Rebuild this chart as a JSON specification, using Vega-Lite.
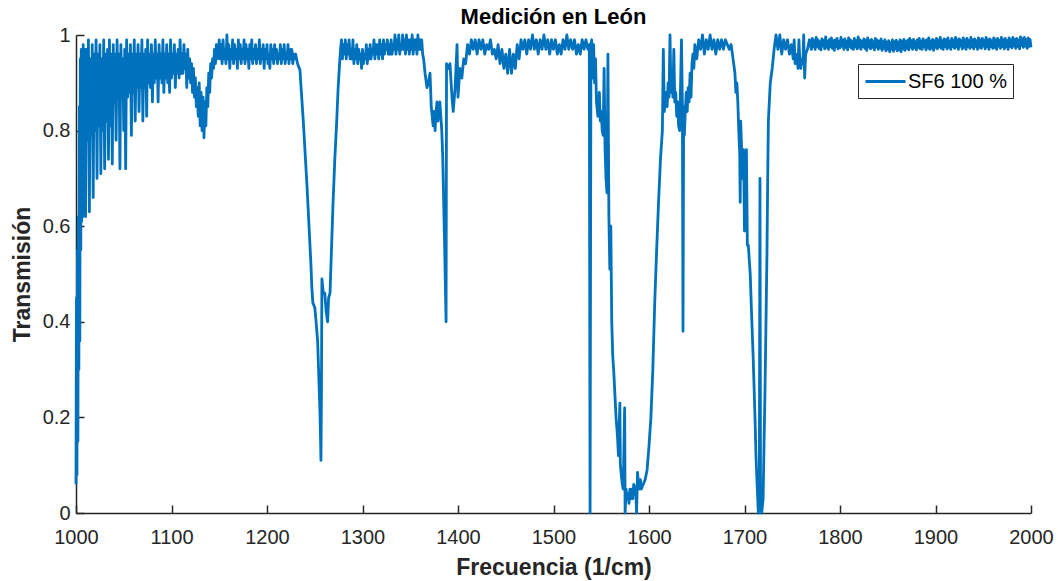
{
"$schema": "https://vega.github.io/schema/vega-lite/v6.json",
"width": 955,
"height": 478,
"autosize": {"type": "none"},
"padding": {"left": 76, "top": 35, "right": 27, "bottom": 68},
"background": "white",
"title": {"text": "Medición en León", "fontSize": 22, "font": "Liberation Sans", "fontWeight": "bold", "color": "#000000", "anchor": "middle", "offset": -4},
"config": {
  "view": {"stroke": null},
  "font": "Liberation Sans",
  "axis": {"grid": false, "domainColor": "#262626", "domainWidth": 1.5, "tickColor": "#262626", "tickWidth": 1.5, "labelColor": "#262626", "titleColor": "#262626", "labelFont": "Liberation Sans", "titleFont": "Liberation Sans", "labelFontSize": 20, "titleFontSize": 23, "titleFontWeight": "bold", "tickSize": -8, "labelFlush": false, "labelOverlap": false}
},
"data": {"values": [
{"x":1000,"y":0.06},{"x":1000.5,"y":0.45},{"x":1001,"y":0.08},{"x":1001.5,"y":0.55},{"x":1002,"y":0.15},{"x":1002.5,"y":0.62},{"x":1003,"y":0.30},{"x":1003.5,"y":0.85},{"x":1004,"y":0.36},{"x":1004.5,"y":0.95},{"x":1005,"y":0.55},{"x":1005.5,"y":0.97},{"x":1006,"y":0.61},{"x":1006.5,"y":0.90},{"x":1007,"y":0.62},{"x":1007.5,"y":0.98},{"x":1008,"y":0.63},{"x":1008.5,"y":0.93},{"x":1009,"y":0.70},{"x":1009.5,"y":0.97},
{"x":1010,"y":0.62},{"x":1011,"y":0.97},{"x":1012,"y":0.78},{"x":1013,"y":0.99},{"x":1014,"y":0.63},{"x":1015,"y":0.95},{"x":1016,"y":0.79},{"x":1017,"y":0.98},{"x":1018,"y":0.66},{"x":1019,"y":0.96},
{"x":1020,"y":0.80},{"x":1021,"y":0.99},{"x":1022,"y":0.70},{"x":1023,"y":0.96},{"x":1024,"y":0.81},{"x":1025,"y":0.98},{"x":1026,"y":0.71},{"x":1027,"y":0.95},{"x":1028,"y":0.80},{"x":1029,"y":0.99},
{"x":1030,"y":0.72},{"x":1031,"y":0.96},{"x":1032,"y":0.82},{"x":1033,"y":0.97},{"x":1034,"y":0.74},{"x":1035,"y":0.99},{"x":1036,"y":0.81},{"x":1037,"y":0.96},{"x":1038,"y":0.73},{"x":1039,"y":0.98},
{"x":1040,"y":0.86},{"x":1041,"y":0.96},{"x":1042,"y":0.78},{"x":1043,"y":0.99},{"x":1044,"y":0.87},{"x":1045,"y":0.96},{"x":1046,"y":0.72},{"x":1047,"y":0.98},{"x":1048,"y":0.87},{"x":1049,"y":0.95},
{"x":1050,"y":0.80},{"x":1051,"y":0.97},{"x":1052,"y":0.72},{"x":1053,"y":0.99},{"x":1054,"y":0.87},{"x":1055,"y":0.96},{"x":1056,"y":0.88},{"x":1057,"y":0.98},{"x":1058,"y":0.79},{"x":1059,"y":0.96},
{"x":1060,"y":0.88},{"x":1061,"y":0.99},{"x":1062,"y":0.82},{"x":1063,"y":0.96},{"x":1064,"y":0.89},{"x":1065,"y":0.98},{"x":1066,"y":0.84},{"x":1067,"y":0.96},{"x":1068,"y":0.89},{"x":1069,"y":0.99},
{"x":1070,"y":0.82},{"x":1071,"y":0.96},{"x":1072,"y":0.89},{"x":1073,"y":0.97},{"x":1074,"y":0.83},{"x":1075,"y":0.99},{"x":1076,"y":0.90},{"x":1077,"y":0.96},{"x":1078,"y":0.89},{"x":1079,"y":0.98},
{"x":1080,"y":0.86},{"x":1081,"y":0.96},{"x":1082,"y":0.90},{"x":1083,"y":0.99},{"x":1084,"y":0.91},{"x":1085,"y":0.96},{"x":1086,"y":0.86},{"x":1087,"y":0.98},{"x":1088,"y":0.91},{"x":1089,"y":0.96},
{"x":1090,"y":0.90},{"x":1091,"y":0.99},{"x":1092,"y":0.88},{"x":1093,"y":0.96},{"x":1094,"y":0.91},{"x":1095,"y":0.98},{"x":1096,"y":0.90},{"x":1097,"y":0.96},{"x":1098,"y":0.88},{"x":1099,"y":0.99},
{"x":1100,"y":0.91},{"x":1101,"y":0.96},{"x":1102,"y":0.92},{"x":1103,"y":0.98},{"x":1104,"y":0.89},{"x":1105,"y":0.96},{"x":1106,"y":0.92},{"x":1107,"y":0.97},{"x":1108,"y":0.91},{"x":1109,"y":0.99},
{"x":1110,"y":0.92},{"x":1111,"y":0.96},{"x":1112,"y":0.92},{"x":1113,"y":0.98},{"x":1114,"y":0.93},{"x":1115,"y":0.96},{"x":1116,"y":0.89},{"x":1117,"y":0.97},{"x":1118,"y":0.91},{"x":1119,"y":0.95},
{"x":1120,"y":0.90},{"x":1121,"y":0.94},{"x":1122,"y":0.88},{"x":1123,"y":0.93},{"x":1124,"y":0.87},{"x":1125,"y":0.91},{"x":1126,"y":0.85},{"x":1127,"y":0.89},{"x":1128,"y":0.83},{"x":1129,"y":0.90},
{"x":1130,"y":0.81},{"x":1131,"y":0.88},{"x":1132,"y":0.80},{"x":1133,"y":0.87},{"x":1134,"y":0.785},{"x":1135,"y":0.86},{"x":1136,"y":0.81},{"x":1137,"y":0.89},{"x":1138,"y":0.85},{"x":1139,"y":0.92},
{"x":1140,"y":0.88},{"x":1141,"y":0.94},{"x":1142,"y":0.91},{"x":1143,"y":0.95},{"x":1144,"y":0.93},{"x":1145,"y":0.97},{"x":1146,"y":0.94},{"x":1147,"y":0.98},{"x":1148,"y":0.95},{"x":1149,"y":0.96},
{"x":1150,"y":0.99},{"x":1151,"y":0.95},{"x":1152,"y":0.98},{"x":1153,"y":0.94},{"x":1154,"y":0.99},{"x":1155,"y":0.95},{"x":1156,"y":0.97},{"x":1157,"y":0.94},{"x":1158,"y":1.0},{"x":1159,"y":0.95},
{"x":1160,"y":0.98},{"x":1161,"y":0.93},{"x":1162,"y":0.97},{"x":1163,"y":0.95},{"x":1164,"y":0.99},{"x":1165,"y":0.94},{"x":1166,"y":0.98},{"x":1167,"y":0.95},{"x":1168,"y":0.97},{"x":1169,"y":0.93},
{"x":1170,"y":0.99},{"x":1171,"y":0.95},{"x":1172,"y":0.98},{"x":1173,"y":0.94},{"x":1174,"y":0.97},{"x":1175,"y":0.95},{"x":1176,"y":0.99},{"x":1177,"y":0.94},{"x":1178,"y":0.98},{"x":1179,"y":0.95},
{"x":1180,"y":0.97},{"x":1181,"y":0.93},{"x":1182,"y":0.98},{"x":1183,"y":0.95},{"x":1184,"y":0.99},{"x":1185,"y":0.94},{"x":1186,"y":0.97},{"x":1187,"y":0.95},{"x":1188,"y":0.98},{"x":1189,"y":0.94},
{"x":1190,"y":0.97},{"x":1191,"y":0.95},{"x":1192,"y":0.99},{"x":1193,"y":0.94},{"x":1194,"y":0.97},{"x":1195,"y":0.95},{"x":1196,"y":0.98},{"x":1197,"y":0.93},{"x":1198,"y":0.97},{"x":1199,"y":0.95},
{"x":1200,"y":0.98},{"x":1201,"y":0.94},{"x":1202,"y":0.96},{"x":1203,"y":0.93},{"x":1204,"y":0.98},{"x":1205,"y":0.95},{"x":1206,"y":0.97},{"x":1207,"y":0.94},{"x":1208,"y":0.98},{"x":1209,"y":0.95},
{"x":1210,"y":0.97},{"x":1211,"y":0.94},{"x":1212,"y":0.96},{"x":1213,"y":0.95},{"x":1214,"y":0.98},{"x":1215,"y":0.94},{"x":1216,"y":0.97},{"x":1217,"y":0.95},{"x":1218,"y":0.98},{"x":1219,"y":0.94},
{"x":1220,"y":0.96},{"x":1221,"y":0.95},{"x":1222,"y":0.98},{"x":1223,"y":0.94},{"x":1224,"y":0.97},{"x":1225,"y":0.95},{"x":1226,"y":0.97},{"x":1227,"y":0.94},{"x":1228,"y":0.96},{"x":1229,"y":0.95},
{"x":1230,"y":0.96},{"x":1232,"y":0.94},{"x":1234.5,"y":0.927},{"x":1236,"y":0.88},{"x":1238,"y":0.82},{"x":1240,"y":0.75},{"x":1242,"y":0.68},{"x":1244,"y":0.60},{"x":1246,"y":0.52},{"x":1247,"y":0.47},
{"x":1248,"y":0.44},{"x":1250,"y":0.43},{"x":1251,"y":0.41},{"x":1253,"y":0.36},{"x":1254,"y":0.30},{"x":1255.5,"y":0.21},{"x":1256.5,"y":0.11},{"x":1257,"y":0.25},{"x":1257.5,"y":0.49},{"x":1259,"y":0.46},
{"x":1260.5,"y":0.46},{"x":1262,"y":0.42},{"x":1263.5,"y":0.40},{"x":1264.5,"y":0.45},{"x":1266,"y":0.46},{"x":1267.5,"y":0.55},{"x":1269,"y":0.64},{"x":1271,"y":0.74},{"x":1273,"y":0.82},{"x":1274.5,"y":0.89},
{"x":1276,"y":0.94},{"x":1277,"y":0.97},{"x":1278,"y":0.99},{"x":1279,"y":0.95},{"x":1280,"y":0.98},{"x":1281,"y":0.96},{"x":1282,"y":0.99},{"x":1283,"y":0.95},{"x":1284,"y":0.98},{"x":1285,"y":0.96},
{"x":1286,"y":0.99},{"x":1287,"y":0.95},{"x":1288,"y":0.97},{"x":1289,"y":0.95},{"x":1290,"y":0.99},{"x":1291,"y":0.94},{"x":1292,"y":0.97},{"x":1293,"y":0.95},{"x":1294,"y":0.98},{"x":1295,"y":0.94},
{"x":1296,"y":0.97},{"x":1297,"y":0.95},{"x":1298,"y":0.96},{"x":1299,"y":0.93},{"x":1300,"y":0.97},{"x":1301,"y":0.94},{"x":1302,"y":0.96},{"x":1303,"y":0.95},{"x":1304,"y":0.98},{"x":1305,"y":0.94},
{"x":1306,"y":0.97},{"x":1307,"y":0.95},{"x":1308,"y":0.98},{"x":1309,"y":0.95},{"x":1310,"y":0.97},{"x":1311,"y":0.96},{"x":1312,"y":0.99},{"x":1313,"y":0.95},{"x":1314,"y":0.98},{"x":1315,"y":0.96},
{"x":1316,"y":0.98},{"x":1317,"y":0.95},{"x":1318,"y":0.99},{"x":1319,"y":0.96},{"x":1320,"y":0.98},{"x":1321,"y":0.95},{"x":1322,"y":0.99},{"x":1323,"y":0.96},{"x":1324,"y":0.98},{"x":1325,"y":0.97},
{"x":1326,"y":0.99},{"x":1327,"y":0.96},{"x":1328,"y":0.98},{"x":1329,"y":0.96},{"x":1330,"y":0.99},{"x":1331,"y":0.96},{"x":1332,"y":0.98},{"x":1333,"y":0.97},{"x":1334,"y":1.0},{"x":1335,"y":0.96},
{"x":1336,"y":0.99},{"x":1337,"y":0.97},{"x":1338,"y":1.0},{"x":1339,"y":0.96},{"x":1340,"y":0.98},{"x":1341,"y":0.97},{"x":1342,"y":1.0},{"x":1343,"y":0.97},{"x":1344,"y":0.99},{"x":1345,"y":0.96},
{"x":1346,"y":1.0},{"x":1347,"y":0.97},{"x":1348,"y":0.99},{"x":1349,"y":0.96},{"x":1350,"y":0.99},{"x":1351,"y":0.97},{"x":1352,"y":1.0},{"x":1353,"y":0.96},{"x":1354,"y":0.99},{"x":1355,"y":0.97},
{"x":1356,"y":0.99},{"x":1357,"y":0.96},{"x":1358,"y":1.0},{"x":1359,"y":0.97},{"x":1360,"y":0.99},{"x":1361,"y":0.97},{"x":1362,"y":0.99},{"x":1363,"y":0.96},{"x":1364,"y":0.95},{"x":1365.5,"y":0.92},
{"x":1367.5,"y":0.89},{"x":1369,"y":0.90},{"x":1370.7,"y":0.92},
{"x":1372,"y":0.85},{"x":1374,"y":0.81},{"x":1375,"y":0.84},{"x":1376,"y":0.80},{"x":1377,"y":0.84},{"x":1378,"y":0.86},{"x":1379,"y":0.82},{"x":1381,"y":0.86},{"x":1382,"y":0.83},{"x":1383,"y":0.80},
{"x":1384,"y":0.745},{"x":1386,"y":0.56},{"x":1387.5,"y":0.40},{"x":1388,"y":0.94},{"x":1390,"y":0.93},{"x":1391.6,"y":0.94},{"x":1393.7,"y":0.87},{"x":1395,"y":0.84},{"x":1397,"y":0.89},{"x":1399,"y":0.98},
{"x":1400,"y":0.87},{"x":1402,"y":0.93},{"x":1404,"y":0.91},{"x":1406,"y":0.95},{"x":1408,"y":0.94},{"x":1410,"y":0.98},{"x":1412,"y":0.96},{"x":1414,"y":0.99},{"x":1416,"y":0.97},
{"x":1418,"y":0.99},{"x":1420,"y":0.96},{"x":1422,"y":0.99},{"x":1424,"y":0.97},{"x":1426,"y":0.99},{"x":1428,"y":0.96},{"x":1430,"y":0.98},{"x":1432,"y":0.97},{"x":1434,"y":0.99},{"x":1436,"y":0.96},
{"x":1438,"y":0.97},{"x":1440,"y":0.95},{"x":1442,"y":0.98},{"x":1444,"y":0.94},{"x":1446,"y":0.97},{"x":1448,"y":0.93},{"x":1450,"y":0.96},{"x":1452,"y":0.92},{"x":1454,"y":0.97},{"x":1456,"y":0.92},
{"x":1458,"y":0.96},{"x":1460,"y":0.93},{"x":1462,"y":0.98},{"x":1464,"y":0.95},{"x":1466,"y":0.99},{"x":1468,"y":0.97},{"x":1470,"y":0.99},{"x":1472,"y":0.96},{"x":1474,"y":0.99},{"x":1476,"y":0.97},
{"x":1478,"y":1.0},{"x":1480,"y":0.97},{"x":1482,"y":0.99},{"x":1484,"y":0.96},{"x":1486,"y":0.99},{"x":1488,"y":0.97},{"x":1490,"y":1.0},{"x":1492,"y":0.97},{"x":1494,"y":0.99},{"x":1496,"y":0.96},
{"x":1498,"y":0.99},{"x":1500,"y":0.97},{"x":1502,"y":0.99},{"x":1504,"y":0.96},{"x":1506,"y":0.98},{"x":1508,"y":0.96},{"x":1510,"y":0.99},{"x":1512,"y":0.97},{"x":1514,"y":1.0},{"x":1516,"y":0.97},
{"x":1518,"y":0.99},{"x":1520,"y":0.97},{"x":1522,"y":0.99},{"x":1524,"y":0.96},{"x":1526,"y":0.98},{"x":1528,"y":0.96},{"x":1530,"y":0.99},{"x":1532,"y":0.97},{"x":1534,"y":0.99},{"x":1536,"y":0.97},
{"x":1537.5,"y":0.98},{"x":1538.3,"y":0.0},{"x":1539.2,"y":0.98},{"x":1540,"y":0.99},{"x":1541,"y":0.91},{"x":1542,"y":0.98},{"x":1543,"y":0.90},{"x":1544,"y":0.95},{"x":1545,"y":0.86},{"x":1546.5,"y":0.83},
{"x":1548,"y":0.88},{"x":1549,"y":0.82},{"x":1550,"y":0.84},{"x":1551,"y":0.80},{"x":1552,"y":0.79},{"x":1553,"y":0.93},{"x":1554,"y":0.76},{"x":1555,"y":0.70},{"x":1556,"y":0.67},{"x":1557,"y":0.96},
{"x":1558,"y":0.62},{"x":1559,"y":0.51},{"x":1560,"y":0.60},{"x":1561,"y":0.40},{"x":1562,"y":0.33},{"x":1563,"y":0.30},{"x":1564,"y":0.26},{"x":1565.5,"y":0.20},{"x":1567,"y":0.16},{"x":1568,"y":0.12},
{"x":1569.5,"y":0.23},{"x":1570,"y":0.10},{"x":1571,"y":0.08},{"x":1572,"y":0.06},{"x":1573,"y":0.05},{"x":1574.5,"y":0.22},{"x":1575,"y":0.0},{"x":1576,"y":0.05},{"x":1577,"y":0.03},{"x":1578,"y":0.04},
{"x":1579,"y":0.02},{"x":1580,"y":0.05},{"x":1581,"y":0.03},{"x":1582,"y":0.05},{"x":1583,"y":0.03},{"x":1584,"y":0.06},{"x":1585,"y":0.04},{"x":1586,"y":0.055},{"x":1587,"y":0.0},{"x":1588,"y":0.085},
{"x":1589,"y":0.06},{"x":1590,"y":0.05},{"x":1591,"y":0.07},{"x":1592,"y":0.05},{"x":1594,"y":0.06},{"x":1596,"y":0.07},{"x":1598,"y":0.09},{"x":1600,"y":0.14},{"x":1602,"y":0.20},{"x":1604,"y":0.30},
{"x":1606,"y":0.44},{"x":1608,"y":0.55},{"x":1610,"y":0.65},{"x":1612,"y":0.74},{"x":1614,"y":0.80},{"x":1615,"y":0.97},{"x":1616,"y":0.84},{"x":1617,"y":0.86},{"x":1618,"y":0.88},{"x":1619,"y":0.85},
{"x":1620,"y":0.90},{"x":1621,"y":0.87},{"x":1622,"y":1.0},{"x":1623,"y":0.88},{"x":1624,"y":0.92},{"x":1625,"y":0.87},{"x":1626,"y":0.97},{"x":1627,"y":0.86},{"x":1628,"y":0.88},{"x":1629,"y":0.83},
{"x":1630,"y":0.86},{"x":1631,"y":0.81},{"x":1632,"y":0.80},{"x":1633,"y":0.89},{"x":1634,"y":0.99},{"x":1635,"y":0.85},{"x":1635.6,"y":0.38},{"x":1636.3,"y":0.85},{"x":1637,"y":0.79},{"x":1638,"y":0.84},
{"x":1639,"y":0.88},{"x":1640,"y":0.84},{"x":1641,"y":0.89},{"x":1642,"y":0.86},{"x":1643,"y":0.92},{"x":1644,"y":0.87},{"x":1645,"y":0.94},{"x":1646,"y":0.96},{"x":1647,"y":0.93},{"x":1648,"y":0.98},
{"x":1650,"y":0.95},{"x":1652,"y":0.99},{"x":1654,"y":0.97},{"x":1656,"y":1.0},{"x":1658,"y":0.96},{"x":1660,"y":0.99},{"x":1662,"y":0.97},{"x":1664,"y":1.0},{"x":1666,"y":0.97},{"x":1668,"y":0.99},
{"x":1670,"y":0.96},{"x":1672,"y":0.99},{"x":1674,"y":0.97},{"x":1676,"y":0.99},{"x":1678,"y":0.97},{"x":1680,"y":0.99},{"x":1682,"y":0.98},{"x":1684,"y":0.97},{"x":1686,"y":0.98},{"x":1688,"y":0.95},
{"x":1690,"y":0.92},{"x":1691,"y":0.88},{"x":1692,"y":0.90},{"x":1693,"y":0.86},{"x":1694,"y":0.80},{"x":1695,"y":0.75},{"x":1695.5,"y":0.65},{"x":1696,"y":0.82},{"x":1697,"y":0.76},{"x":1698,"y":0.70},
{"x":1699,"y":0.76},{"x":1700,"y":0.59},{"x":1701,"y":0.62},{"x":1702,"y":0.76},{"x":1703,"y":0.56},{"x":1704,"y":0.56},{"x":1706,"y":0.50},{"x":1707,"y":0.44},{"x":1709,"y":0.33},{"x":1711,"y":0.20},
{"x":1712,"y":0.12},{"x":1713,"y":0.07},{"x":1714.5,"y":0.0},{"x":1715.5,"y":0.02},{"x":1716.2,"y":0.70},{"x":1716.8,"y":0.02},{"x":1718,"y":0.0},{"x":1719.5,"y":0.03},{"x":1720.5,"y":0.15},{"x":1721.5,"y":0.26},
{"x":1722.5,"y":0.40},{"x":1723.5,"y":0.54},{"x":1724.3,"y":0.70},{"x":1725,"y":0.82},{"x":1727,"y":0.90},{"x":1729,"y":0.93},{"x":1731,"y":0.97},{"x":1733,"y":1.0},
{"x":1735,"y":0.97},{"x":1737,"y":1.0},{"x":1739,"y":0.96},{"x":1741,"y":0.99},{"x":1743,"y":0.97},{"x":1745,"y":0.99},{"x":1747,"y":0.96},{"x":1749,"y":0.98},{"x":1751,"y":0.95},{"x":1752,"y":0.99},
{"x":1753,"y":0.94},{"x":1755,"y":0.96},{"x":1756,"y":0.93},{"x":1757,"y":0.99},{"x":1758,"y":0.94},{"x":1759,"y":0.93},{"x":1760,"y":0.95},{"x":1761,"y":0.94},{"x":1762,"y":1.0},{"x":1763,"y":0.91},
{"x":1764,"y":0.96},{"x":1766,"y":0.97},{"x":1768,"y":0.99},
{"x":1769,"y":0.985},{"x":1770,"y":0.97},{"x":1771,"y":0.993},{"x":1772,"y":0.975},{"x":1773,"y":0.988},{"x":1774,"y":0.97},{"x":1775,"y":0.995},{"x":1776,"y":0.976},{"x":1777,"y":0.99},{"x":1778,"y":0.972},
{"x":1779,"y":0.986},{"x":1780,"y":0.969},{"x":1781,"y":0.992},{"x":1782,"y":0.977},{"x":1783,"y":0.989},{"x":1784,"y":0.971},{"x":1785,"y":0.996},{"x":1786,"y":0.974},{"x":1787,"y":0.987},{"x":1788,"y":0.97},
{"x":1789,"y":0.991},{"x":1790,"y":0.976},{"x":1791,"y":0.994},{"x":1792,"y":0.972},{"x":1793,"y":0.988},{"x":1794,"y":0.968},{"x":1795,"y":0.99},{"x":1796,"y":0.975},{"x":1797,"y":0.993},{"x":1798,"y":0.971},
{"x":1799,"y":0.986},{"x":1800,"y":0.973},{"x":1801,"y":0.995},{"x":1802,"y":0.977},{"x":1803,"y":0.989},{"x":1804,"y":0.97},{"x":1805,"y":0.992},{"x":1806,"y":0.974},{"x":1807,"y":0.987},{"x":1808,"y":0.969},
{"x":1809,"y":0.994},{"x":1810,"y":0.976},{"x":1811,"y":0.99},{"x":1812,"y":0.972},{"x":1813,"y":0.986},{"x":1814,"y":0.97},{"x":1815,"y":0.993},{"x":1816,"y":0.975},{"x":1817,"y":0.988},{"x":1818,"y":0.971},
{"x":1819,"y":0.996},{"x":1820,"y":0.974},{"x":1821,"y":0.99},{"x":1822,"y":0.97},{"x":1823,"y":0.987},{"x":1824,"y":0.976},{"x":1825,"y":0.992},{"x":1826,"y":0.972},{"x":1827,"y":0.989},{"x":1828,"y":0.968},
{"x":1829,"y":0.994},{"x":1830,"y":0.975},{"x":1831,"y":0.988},{"x":1832,"y":0.971},{"x":1833,"y":0.991},{"x":1834,"y":0.974},{"x":1835,"y":0.986},{"x":1836,"y":0.969},{"x":1837,"y":0.993},{"x":1838,"y":0.975},
{"x":1839,"y":0.989},{"x":1840,"y":0.97},{"x":1841,"y":0.987},{"x":1842,"y":0.973},{"x":1843,"y":0.992},{"x":1844,"y":0.968},{"x":1845,"y":0.986},{"x":1846,"y":0.972},{"x":1847,"y":0.99},{"x":1848,"y":0.967},
{"x":1849,"y":0.985},{"x":1850,"y":0.97},{"x":1851,"y":0.988},{"x":1852,"y":0.965},{"x":1853,"y":0.984},{"x":1854,"y":0.97},{"x":1855,"y":0.99},{"x":1856,"y":0.966},{"x":1857,"y":0.986},{"x":1858,"y":0.971},
{"x":1859,"y":0.989},{"x":1860,"y":0.967},{"x":1861,"y":0.985},{"x":1862,"y":0.969},{"x":1863,"y":0.99},{"x":1864,"y":0.965},{"x":1865,"y":0.987},{"x":1866,"y":0.971},{"x":1867,"y":0.991},{"x":1868,"y":0.968},
{"x":1869,"y":0.986},{"x":1870,"y":0.972},{"x":1871,"y":0.989},{"x":1872,"y":0.969},{"x":1873,"y":0.993},{"x":1874,"y":0.974},{"x":1875,"y":0.988},{"x":1876,"y":0.97},{"x":1877,"y":0.991},{"x":1878,"y":0.973},
{"x":1879,"y":0.986},{"x":1880,"y":0.969},{"x":1881,"y":0.99},{"x":1882,"y":0.974},{"x":1883,"y":0.993},{"x":1884,"y":0.971},{"x":1885,"y":0.987},{"x":1886,"y":0.97},{"x":1887,"y":0.992},{"x":1888,"y":0.975},
{"x":1889,"y":0.988},{"x":1890,"y":0.969},{"x":1891,"y":0.99},{"x":1892,"y":0.973},{"x":1893,"y":0.994},{"x":1894,"y":0.97},{"x":1895,"y":0.987},{"x":1896,"y":0.972},{"x":1897,"y":0.991},{"x":1898,"y":0.968},
{"x":1899,"y":0.988},{"x":1900,"y":0.974},{"x":1901,"y":0.993},{"x":1902,"y":0.971},{"x":1903,"y":0.989},{"x":1904,"y":0.975},{"x":1905,"y":0.995},{"x":1906,"y":0.972},{"x":1907,"y":0.988},{"x":1908,"y":0.97},
{"x":1909,"y":0.992},{"x":1910,"y":0.976},{"x":1911,"y":0.99},{"x":1912,"y":0.971},{"x":1913,"y":0.994},{"x":1914,"y":0.974},{"x":1915,"y":0.987},{"x":1916,"y":0.97},{"x":1917,"y":0.993},{"x":1918,"y":0.976},
{"x":1919,"y":0.989},{"x":1920,"y":0.972},{"x":1921,"y":0.995},{"x":1922,"y":0.975},{"x":1923,"y":0.99},{"x":1924,"y":0.97},{"x":1925,"y":0.992},{"x":1926,"y":0.977},{"x":1927,"y":0.988},{"x":1928,"y":0.971},
{"x":1929,"y":0.994},{"x":1930,"y":0.974},{"x":1931,"y":0.99},{"x":1932,"y":0.97},{"x":1933,"y":0.993},{"x":1934,"y":0.976},{"x":1935,"y":0.988},{"x":1936,"y":0.972},{"x":1937,"y":0.995},{"x":1938,"y":0.975},
{"x":1939,"y":0.99},{"x":1940,"y":0.971},{"x":1941,"y":0.992},{"x":1942,"y":0.976},{"x":1943,"y":0.988},{"x":1944,"y":0.97},{"x":1945,"y":0.994},{"x":1946,"y":0.974},{"x":1947,"y":0.99},{"x":1948,"y":0.972},
{"x":1949,"y":0.993},{"x":1950,"y":0.977},{"x":1951,"y":0.989},{"x":1952,"y":0.971},{"x":1953,"y":0.995},{"x":1954,"y":0.975},{"x":1955,"y":0.99},{"x":1956,"y":0.97},{"x":1957,"y":0.992},{"x":1958,"y":0.976},
{"x":1959,"y":0.988},{"x":1960,"y":0.972},{"x":1961,"y":0.994},{"x":1962,"y":0.974},{"x":1963,"y":0.99},{"x":1964,"y":0.97},{"x":1965,"y":0.993},{"x":1966,"y":0.977},{"x":1967,"y":0.989},{"x":1968,"y":0.972},
{"x":1969,"y":0.995},{"x":1970,"y":0.976},{"x":1971,"y":0.99},{"x":1972,"y":0.971},{"x":1973,"y":0.993},{"x":1974,"y":0.975},{"x":1975,"y":0.988},{"x":1976,"y":0.97},{"x":1977,"y":0.994},{"x":1978,"y":0.976},
{"x":1979,"y":0.99},{"x":1980,"y":0.973},{"x":1981,"y":0.995},{"x":1982,"y":0.977},{"x":1983,"y":0.991},{"x":1984,"y":0.972},{"x":1985,"y":0.993},{"x":1986,"y":0.976},{"x":1987,"y":0.989},{"x":1988,"y":0.971},
{"x":1989,"y":0.996},{"x":1990,"y":0.978},{"x":1991,"y":0.992},{"x":1992,"y":0.974},{"x":1993,"y":0.995},{"x":1994,"y":0.977},{"x":1995,"y":0.99},{"x":1996,"y":0.972},{"x":1997,"y":0.994},{"x":1998,"y":0.976},
{"x":1999,"y":0.991},{"x":2000,"y":0.974}
]},
"mark": {"type": "line", "strokeWidth": 2.8, "strokeJoin": "round", "interpolate": "linear"},
"encoding": {
  "x": {"field": "x", "type": "quantitative", "scale": {"domain": [1000, 2000], "nice": false, "zero": false}, "axis": {"title": "Frecuencia (1/cm)", "values": [1000,1100,1200,1300,1400,1500,1600,1700,1800,1900,2000], "format": "d", "labelPadding": 22, "titlePadding": 9}},
  "y": {"field": "y", "type": "quantitative", "scale": {"domain": [0, 1], "nice": false}, "axis": {"title": "Transmisión", "values": [0,0.2,0.4,0.6,0.8,1], "format": "~f", "labelPadding": 14, "titlePadding": 8}},
  "color": {"datum": "SF6 100 %", "type": "nominal", "scale": {"range": ["#0072BD"]}, "legend": {"title": null, "orient": "none", "legendX": 782, "legendY": 29, "strokeColor": "#262626", "fillColor": "white", "padding": 6, "symbolType": "M-1,0H3", "symbolSize": 400, "symbolStrokeWidth": 3, "labelFontSize": 20, "labelColor": "#000000", "labelFont": "Liberation Sans", "labelOffset": 21}}
}
}
